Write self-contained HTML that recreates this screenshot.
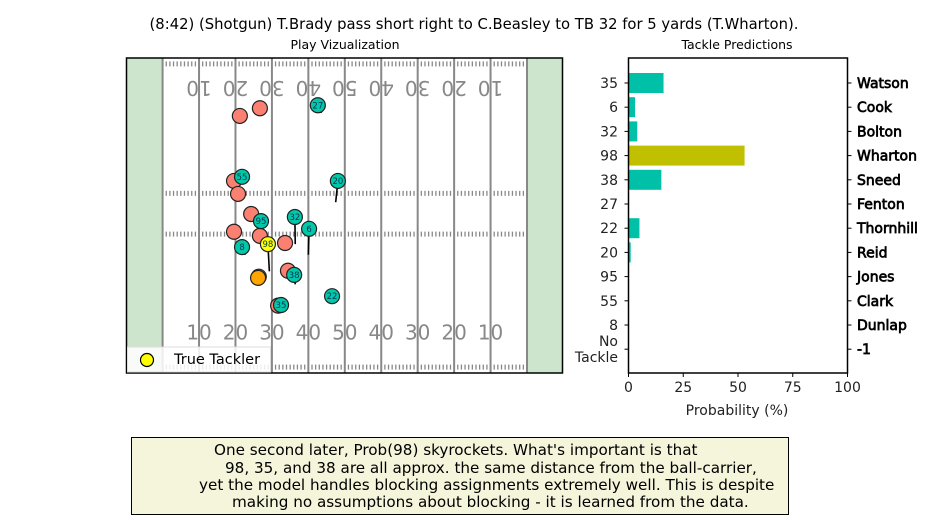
<!DOCTYPE html>
<html><head><meta charset="utf-8"><style>
body{margin:0;width:950px;height:520px;background:#fff;overflow:hidden;font-family:"DejaVu Sans","Liberation Sans",sans-serif}
svg{position:absolute;left:0;top:0}
#note{position:absolute;left:131px;top:437px;width:658px;height:78px;border:1px solid #000;background:#f5f5dc;box-sizing:border-box;color:#000}
#note div{position:absolute;font-size:15.2px;line-height:17px;white-space:pre}
</style></head><body>
<svg id="chart" width="950" height="520" font-family="DejaVu Sans, Liberation Sans, sans-serif">
<text x="474" y="29" font-size="14.8" text-anchor="middle">(8:42) (Shotgun) T.Brady pass short right to C.Beasley to TB 32 for 5 yards (T.Wharton).</text>
<text x="345" y="49" font-size="12.5" text-anchor="middle">Play Vizualization</text>
<text x="737" y="49" font-size="12.5" text-anchor="middle">Tackle Predictions</text>
<g id="field"></g>
<g id="bars"></g>
</svg>
<div id="note">
<div style="left:82px;top:4px">One second later, Prob(98) skyrockets. What's important is that</div>
<div style="left:93px;top:21.5px">98, 35, and 38 are all approx. the same distance from the ball-carrier,</div>
<div style="left:67px;top:39px">yet the model handles blocking assignments extremely well. This is despite</div>
<div style="left:100px;top:56px">making no assumptions about blocking - it is learned from the data.</div>
</div>
<script>
// ---- field data (yards from left goal line, yards from top sideline) ----
const offenseX=[21.2,26.7,19.6,20.7,24.3,19.6,26.7,33.6,34.4,26.4,31.7];
const offenseY=[9.8,8.5,20.8,23.0,26.4,29.4,30.1,31.3,36.0,37.0,41.9];
const defenseNum=["27","55","20","95","32","6","8","98","38","22","35"];
const defenseX=[42.6,21.8,48.1,27.0,36.3,40.2,21.8,28.9,36.1,46.5,32.5];
const defenseY=[8.0,20.1,20.8,27.6,26.9,28.9,32.0,31.5,36.7,40.3,41.8];
const defenseVX=[1.0,1.2,-0.6,0,0.1,-0.2,0.9,0.4,0.3,-0.8,0.3];
const defenseVY=[1.3,0.6,3.6,0,4.6,4.4,1.3,4.6,1.6,0.8,-1.2];
const carrierX=[26.2], carrierY=[37.2];
const yardLabels=["10","20","30","40","50","40","30","20","10"];
// ---- bar data ----
const barNums=["35","6","32","98","38","27","22","20","95","55","8","No\nTackle"];
const barNames=["Watson","Cook","Bolton","Wharton","Sneed","Fenton","Thornhill","Reid","Jones","Clark","Dunlap","-1"];
const barProb=[16,3,4,53,15,0,5,1,0,0,0,0];
const barTrue=[false,false,false,true,false,false,false,false,false,false,false,false];
const xTicks=[0,25,50,75,100];

const NS="http://www.w3.org/2000/svg";
function mk(tag,attrs,parent){const e=document.createElementNS(NS,tag);for(const k in attrs)e.setAttribute(k,attrs[k]);parent.appendChild(e);return e;}
const F=document.getElementById('field');
const fl=126.5,fr=562.5,ft=58,fb=373,g0=162.6,g1=527;
const fx=y=>g0+(g1-g0)*y/100;
const fy=y=>ft+(fb-ft)*y/53.3;
let e;
e=mk('rect',{x:fl,y:ft,width:fr-fl,height:fb-ft,fill:'#fff'},F);

e=mk('rect',{x:fl,y:ft,width:g0-fl,height:fb-ft,fill:'#cde5cd'},F);

e=mk('rect',{x:g1,y:ft,width:fr-g1,height:fb-ft,fill:'#cde5cd'},F);

for(let k=0;k<=10;k++){
  e=mk('line',{x1:fx(k*10),x2:fx(k*10),y1:ft,y2:fb,stroke:'#888','stroke-width':2},F);
  
}
[1,22.9,29.8,52.3].forEach(hy=>{
  for(let yd=1;yd<100;yd++){
    if(yd%10===0)continue;
    e=mk('line',{x1:fx(yd),x2:fx(yd),y1:fy(hy)-2.5,y2:fy(hy)+2.5,stroke:'#888','stroke-width':1.3},F);
    
  }
});
yardLabels.forEach((t,i)=>{
  const x=fx((i+1)*10);
  e=mk('text',{x:x,y:fy(47.6),'font-size':20,fill:'#888','text-anchor':'middle'},F);e.textContent=t;
  
  e=mk('text',{x:0,y:0,'font-size':20,fill:'#888','text-anchor':'middle',transform:`translate(${x},${fy(3.9)}) rotate(180)`},F);e.textContent=t;
  
});
e=mk('rect',{x:fl,y:ft,width:fr-fl,height:fb-ft,fill:'none',stroke:'#000','stroke-width':1.5},F);

offenseX.forEach((x,i)=>{
  e=mk('circle',{cx:fx(x),cy:fy(offenseY[i]),r:7.5,fill:'#fa8072',stroke:'#222','stroke-width':1.2},F);
  
});
e=mk('circle',{cx:fx(carrierX[0]),cy:fy(carrierY[0]),r:7.5,fill:'#ffa500',stroke:'#222','stroke-width':1.2},F);

defenseX.forEach((x,i)=>{
  const cx=fx(x),cy=fy(defenseY[i]);
  e=mk('line',{x1:cx,y1:cy,x2:cx+defenseVX[i]*3.64,y2:cy+defenseVY[i]*5.9,stroke:'#000','stroke-width':1.6},F);
  
  e=mk('circle',{cx:cx,cy:cy,r:7.5,fill:defenseNum[i]==="98"?'#ffff00':'#00c8a8',stroke:'#222','stroke-width':1.2},F);
  
  e=mk('text',{x:cx,y:cy+3,'font-size':8.5,'text-anchor':'middle',fill:'#035'},F);e.textContent=defenseNum[i];
  
});
e=mk('rect',{x:127.5,y:347,width:143,height:25,fill:'#fff','fill-opacity':0.85,stroke:'#ddd'},F);

e=mk('circle',{cx:147,cy:360,r:6.5,fill:'#ffff00',stroke:'#000','stroke-width':1.2},F);

e=mk('text',{x:174,y:364,'font-size':14.5},F);e.textContent="True Tackler";


// ---- bars ----
const B=document.getElementById('bars');
const bl=628.5,br=847.5,bt=58,bb=373;
const bx=v=>bl+(br-bl)*v/100;
const rowY=i=>83+i*24.2;
barProb.forEach((v,i)=>{
  const y=rowY(i);
  e=mk('rect',{x:bl,y:y-10,width:bx(v)-bl,height:20,fill:barTrue[i]?'#c0c000':'#00c0a8'},B);
  
  e=mk('line',{x1:bl-4,x2:bl,y1:y,y2:y,stroke:'#000'},B);
  
  e=mk('line',{x1:br,x2:br+4,y1:y,y2:y,stroke:'#000'},B);
  
  const lines=barNums[i].split("\n");
  lines.forEach((t,j)=>{
    e=mk('text',{x:618,y:y+5+(j-(lines.length-1)/2)*16,'font-size':14,'text-anchor':'end',fill:'#222'},B);e.textContent=t;
    
  });
  e=mk('text',{x:857,y:y+5,'font-size':14,fill:'#000','stroke':'#000','stroke-width':0.7},B);e.textContent=barNames[i];
  
});
e=mk('rect',{x:bl,y:bt,width:br-bl,height:bb-bt,fill:'none',stroke:'#000','stroke-width':1.5},B);

xTicks.forEach(t=>{
  const x=bx(t);
  e=mk('line',{x1:x,x2:x,y1:bb,y2:bb+4,stroke:'#000'},B);
  
  e=mk('text',{x:x,y:bb+19,'font-size':14,'text-anchor':'middle',fill:'#222'},B);e.textContent=t;
  
});
e=mk('text',{x:737,y:415,'font-size':14,'text-anchor':'middle',fill:'#222'},B);e.textContent="Probability (%)";

</script>
</body></html>
